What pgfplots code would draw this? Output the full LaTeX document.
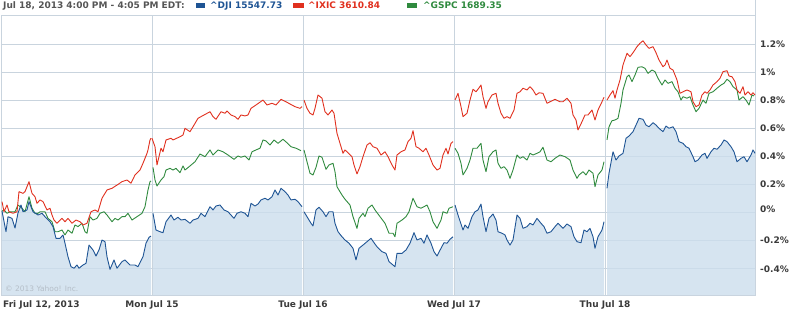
\documentclass[border=0pt]{standalone}
\usepackage{pgfplots}
\pgfplotsset{compat=1.18}
\usepackage{pgfplotstable}
\usepackage{fontspec}
\setmainfont{DejaVu Sans}
\definecolor{djiblue}{HTML}{1E5494}
\definecolor{djifill}{HTML}{CCDDEC}
\definecolor{ixicred}{HTML}{E0301E}
\definecolor{gspcgreen}{HTML}{2F8A3E}
\definecolor{gridc}{HTML}{C9D4DE}
\definecolor{labelc}{HTML}{3A3A3A}
\definecolor{titlec}{HTML}{555555}
\definecolor{wmark}{HTML}{B4BEC8}

\pgfplotstableread{
x y
2 0.011
6 -0.136
8 -0.029
12 -0.041
15 -0.110
18 -0.003
21 0.054
23 0.006
27 0.019
29 0.078
33 0.006
38 -0.017
42 -0.005
45 -0.029
50 -0.065
53 -0.100
56 -0.183
60 -0.183
63 -0.159
65 -0.218
68 -0.314
71 -0.385
74 -0.396
77 -0.373
79 -0.396
83 -0.373
86 -0.361
89 -0.231
93 -0.266
96 -0.309
99 -0.266
102 -0.195
105 -0.207
107 -0.314
110 -0.404
114 -0.337
117 -0.396
122 -0.349
125 -0.337
130 -0.373
135 -0.373
138 -0.385
143 -0.314
146 -0.218
149 -0.176
151 -0.167
}\djiA

\pgfplotstableread{
x y
153 -0.005
156 -0.124
160 -0.136
163 -0.143
166 -0.065
171 -0.017
174 -0.053
178 -0.033
181 -0.053
185 -0.048
190 -0.076
193 -0.053
198 -0.041
201 -0.005
205 -0.029
210 0.042
213 0.019
216 0.047
220 0.054
224 0.019
228 0.006
234 -0.041
237 -0.005
241 0.006
245 -0.005
248 -0.029
251 0.066
255 0.047
258 0.061
261 0.090
265 0.102
268 0.090
272 0.113
275 0.161
278 0.125
281 0.173
285 0.149
288 0.125
291 0.090
295 0.095
298 0.078
302 0.042
}\djiB

\pgfplotstableread{
x y
304 0.006
307 -0.029
311 -0.076
313 -0.095
316 0.019
319 0.038
323 0.006
326 -0.029
329 0.006
333 0.006
335 -0.076
338 -0.136
342 -0.172
345 -0.195
349 -0.218
353 -0.254
356 -0.337
359 -0.254
363 -0.231
367 -0.207
371 -0.183
374 -0.214
377 -0.243
382 -0.278
386 -0.290
389 -0.349
393 -0.373
395 -0.385
397 -0.290
402 -0.290
406 -0.266
410 -0.218
414 -0.143
417 -0.195
421 -0.183
424 -0.218
427 -0.159
431 -0.218
434 -0.278
437 -0.309
441 -0.254
444 -0.214
447 -0.218
450 -0.190
453 -0.172
}\djiC

\pgfplotstableread{
x y
455 0.054
458 -0.017
463 -0.124
465 -0.088
468 -0.112
472 -0.029
475 0.006
478 0.019
481 0.061
483 -0.029
486 -0.136
489 -0.041
493 -0.010
496 -0.053
498 -0.136
502 -0.147
505 -0.159
507 -0.195
510 -0.231
513 -0.195
517 -0.017
520 -0.041
523 -0.112
527 -0.100
530 -0.076
533 -0.088
537 -0.041
541 -0.076
544 -0.100
547 -0.147
551 -0.136
555 -0.100
558 -0.076
563 -0.112
567 -0.081
571 -0.100
574 -0.172
577 -0.207
581 -0.214
584 -0.124
587 -0.136
590 -0.112
593 -0.172
595 -0.254
598 -0.172
602 -0.124
604 -0.065
}\djiD

\pgfplotstableread{
x y
607 0.173
609 0.280
613 0.433
616 0.374
619 0.403
623 0.422
626 0.529
629 0.545
633 0.576
636 0.623
639 0.671
643 0.664
646 0.623
649 0.611
653 0.640
656 0.623
659 0.600
663 0.576
666 0.616
669 0.600
673 0.611
676 0.576
679 0.505
683 0.493
686 0.469
689 0.458
693 0.398
695 0.362
698 0.374
702 0.410
705 0.422
707 0.386
711 0.433
714 0.458
717 0.451
721 0.481
724 0.517
727 0.505
731 0.469
734 0.433
737 0.362
741 0.386
744 0.398
747 0.362
751 0.410
753 0.446
755 0.422
}\djiE

\pgfplotstableread{
x y
2 0.078
4 0.006
7 0.054
9 0.006
13 -0.005
17 0.006
19 0.149
23 0.137
25 0.149
29 0.220
32 0.137
35 0.113
37 0.066
40 0.090
43 0.078
47 0.019
50 0.031
52 -0.017
54 -0.053
57 -0.076
62 -0.041
65 -0.065
68 -0.041
72 -0.076
76 -0.053
80 -0.065
83 -0.088
87 -0.076
91 0.006
95 0.019
98 0.006
102 0.102
107 0.161
112 0.173
117 0.196
122 0.220
127 0.232
131 0.209
135 0.268
140 0.303
143 0.351
147 0.422
148 0.446
150 0.517
151 0.529
nan nan
152 0.529
155 0.469
157 0.339
161 0.458
163 0.433
166 0.517
171 0.529
173 0.517
180 0.540
183 0.552
185 0.600
190 0.576
193 0.611
198 0.671
201 0.683
210 0.718
213 0.683
216 0.664
221 0.718
225 0.707
227 0.723
231 0.695
235 0.683
238 0.664
241 0.695
245 0.688
248 0.695
251 0.742
256 0.766
263 0.801
267 0.766
272 0.778
276 0.766
281 0.806
286 0.789
290 0.773
295 0.754
300 0.742
302 0.754
nan nan
304 0.801
307 0.742
310 0.707
313 0.695
315 0.742
318 0.837
322 0.814
325 0.718
328 0.695
332 0.730
334 0.707
337 0.564
340 0.493
343 0.422
345 0.446
348 0.426
352 0.398
354 0.339
357 0.275
360 0.327
363 0.398
367 0.481
370 0.497
373 0.469
377 0.458
381 0.410
385 0.433
388 0.398
392 0.339
395 0.303
397 0.410
401 0.433
405 0.446
408 0.505
411 0.529
413 0.583
416 0.469
419 0.458
423 0.433
426 0.458
429 0.410
433 0.339
437 0.303
440 0.315
443 0.410
446 0.458
448 0.417
451 0.493
453 0.505
nan nan
455 0.801
458 0.849
461 0.754
463 0.683
467 0.707
470 0.801
473 0.878
476 0.860
478 0.878
481 0.908
483 0.825
486 0.742
488 0.789
492 0.837
496 0.849
498 0.778
501 0.707
504 0.671
507 0.683
510 0.671
514 0.730
517 0.849
520 0.860
523 0.885
527 0.873
530 0.896
533 0.873
536 0.837
539 0.853
543 0.849
547 0.778
550 0.789
555 0.806
560 0.789
563 0.789
567 0.814
571 0.778
573 0.695
576 0.659
578 0.588
582 0.647
585 0.695
588 0.695
592 0.730
595 0.659
598 0.730
602 0.789
604 0.821
nan nan
607 0.801
610 0.837
613 0.868
615 0.814
617 0.873
620 0.944
623 1.051
627 1.134
630 1.110
633 1.138
637 1.181
640 1.205
643 1.223
646 1.193
649 1.169
653 1.181
656 1.138
659 1.086
663 1.038
665 1.051
667 1.086
670 1.027
673 1.015
677 0.944
680 0.849
683 0.860
687 0.873
691 0.860
693 0.789
696 0.754
699 0.766
702 0.837
705 0.860
707 0.849
710 0.873
713 0.908
717 0.932
720 0.956
723 1.003
727 1.010
729 0.972
732 0.967
735 0.932
737 0.873
740 0.849
743 0.896
745 0.837
748 0.860
751 0.837
753 0.853
755 0.837
}\ixic

\pgfplotstableread{
x y
2 0.011
4 0.019
7 -0.005
10 0.006
15 0.006
18 0.054
22 0.031
25 0.006
29 0.113
32 0.031
35 -0.005
38 -0.005
40 0.006
45 0.006
48 -0.041
52 -0.065
55 -0.136
58 -0.136
62 -0.124
65 -0.159
68 -0.124
72 -0.147
75 -0.088
78 -0.100
82 -0.076
85 -0.136
87 -0.147
90 -0.029
93 -0.053
97 -0.041
100 -0.005
104 0.006
107 -0.017
112 -0.065
115 -0.041
118 -0.053
122 -0.029
125 -0.029
128 -0.005
132 -0.053
137 -0.029
142 -0.005
145 0.042
148 0.161
150 0.220
151 0.225
nan nan
153 0.322
155 0.232
157 0.189
161 0.232
164 0.256
166 0.303
170 0.315
173 0.303
176 0.315
180 0.284
183 0.332
185 0.303
190 0.332
195 0.362
200 0.417
205 0.398
210 0.446
213 0.410
218 0.446
223 0.433
228 0.410
234 0.379
238 0.403
241 0.394
245 0.403
249 0.374
252 0.433
256 0.446
260 0.458
263 0.517
266 0.510
270 0.481
274 0.517
278 0.493
283 0.522
287 0.497
291 0.469
296 0.458
301 0.441
nan nan
304 0.446
307 0.362
310 0.280
313 0.268
316 0.322
319 0.403
322 0.394
326 0.308
329 0.339
333 0.351
335 0.291
337 0.184
342 0.125
345 0.095
350 0.054
353 -0.029
357 -0.112
359 -0.041
363 -0.005
365 -0.029
368 0.031
372 0.054
375 0.019
380 -0.029
385 -0.076
389 -0.147
393 -0.147
395 -0.172
397 -0.076
402 -0.053
406 -0.029
409 0.006
413 0.102
417 0.042
421 0.031
424 0.042
427 0.054
430 0.006
433 -0.065
437 -0.112
441 -0.053
443 0.006
447 -0.005
449 0.031
453 0.042
nan nan
455 0.458
458 0.422
461 0.351
463 0.268
467 0.315
470 0.374
473 0.458
477 0.458
481 0.493
483 0.374
486 0.291
489 0.398
493 0.433
496 0.446
498 0.351
501 0.315
504 0.327
507 0.303
510 0.244
513 0.303
517 0.410
520 0.386
523 0.398
527 0.374
530 0.422
533 0.410
537 0.422
540 0.433
543 0.465
547 0.374
551 0.362
555 0.386
560 0.410
565 0.398
570 0.374
573 0.303
577 0.244
579 0.268
583 0.291
586 0.268
589 0.303
593 0.280
595 0.184
598 0.268
602 0.303
604 0.362
nan nan
607 0.517
609 0.611
612 0.654
615 0.659
618 0.671
621 0.778
623 0.873
627 0.967
629 0.979
632 0.932
635 0.979
638 1.034
642 1.038
645 1.027
648 0.991
652 1.015
655 1.003
658 0.956
662 0.908
665 0.944
668 0.920
672 0.932
675 0.885
678 0.860
681 0.801
683 0.825
687 0.814
690 0.825
693 0.766
696 0.718
699 0.742
703 0.801
706 0.778
709 0.849
713 0.860
717 0.885
721 0.908
724 0.920
727 0.949
730 0.932
733 0.896
737 0.873
739 0.801
743 0.825
746 0.801
749 0.766
752 0.837
754 0.830
}\gspc

\begin{document}
\begin{tikzpicture}
\useasboundingbox (-1pt,-16pt) rectangle (795pt,295pt);
\begin{axis}[
  at={(0pt,0pt)}, anchor=south west,
  scale only axis, width=754pt, height=280pt,
  xmin=1, xmax=755, ymin=-0.5865, ymax=1.4064,
  clip=false,
  unbounded coords=jump,
  axis line style={draw=gridc, line width=0.8pt},
  grid=major,
  major grid style={draw=gridc, line width=0.8pt},
  major tick length=0pt,
  tick style={draw=none},
  xtick={152,303,454,605},
  xticklabels={Mon Jul 15, Tue Jul 16, Wed Jul 17, Thu Jul 18},
  extra x ticks={1},
  extra x tick labels={Fri Jul 12{,} 2013},
  extra x tick style={grid=none, xticklabel style={anchor=base west, xshift=2pt}},
  xticklabel style={font=\bfseries\fontsize{9}{10}\selectfont, text=labelc, anchor=base, inner sep=0pt, yshift=-12pt},
  ytick={-0.4,-0.2,0,0.2,0.4,0.6,0.8,1.0,1.2},
  yticklabels={-0.4\%,-0.2\%,\raisebox{6pt}{0\%},0.2\%,0.4\%,0.6\%,0.8\%,1\%,1.2\%},
  yticklabel pos=right,
  yticklabel style={font=\bfseries\fontsize{9}{10}\selectfont, text=labelc, anchor=west, inner sep=0pt, xshift=5pt},
]
\addplot[draw=none, fill=djifill, fill opacity=0.8] table {\djiA} -- (axis cs:151,-0.5865) -- (axis cs:2,-0.5865) -- cycle;
\addplot[draw=none, fill=djifill, fill opacity=0.8] table {\djiB} -- (axis cs:302,-0.5865) -- (axis cs:153,-0.5865) -- cycle;
\addplot[draw=none, fill=djifill, fill opacity=0.8] table {\djiC} -- (axis cs:453,-0.5865) -- (axis cs:304,-0.5865) -- cycle;
\addplot[draw=none, fill=djifill, fill opacity=0.8] table {\djiD} -- (axis cs:604,-0.5865) -- (axis cs:455,-0.5865) -- cycle;
\addplot[draw=none, fill=djifill, fill opacity=0.8] table {\djiE} -- (axis cs:755,-0.5865) -- (axis cs:607,-0.5865) -- cycle;
\addplot[gspcgreen, line width=0.9pt, line join=round] table {\gspc};
\addplot[ixicred, line width=0.9pt, line join=round] table {\ixic};
\addplot[djiblue, line width=0.9pt, line join=round] table {\djiA};
\addplot[djiblue, line width=0.9pt, line join=round] table {\djiB};
\addplot[djiblue, line width=0.9pt, line join=round] table {\djiC};
\addplot[djiblue, line width=0.9pt, line join=round] table {\djiD};
\addplot[djiblue, line width=0.9pt, line join=round] table {\djiE};
\end{axis}
\draw[gridc, line width=0.8pt] (754pt,280pt) -- (754pt,295pt);
\node[anchor=base west, inner sep=0pt, font=\fontsize{7.5}{9}\selectfont, text=wmark] at (4pt,4pt) {\textcopyright\ 2013 Yahoo! Inc.};
\node[anchor=base west, inner sep=0pt, font=\bfseries\fontsize{9}{10}\selectfont, text=titlec] at (2pt,286.5pt) {Jul 18, 2013 4:00 PM - 4:05 PM EDT:};
\fill[djiblue] (195pt,287pt) rectangle (204pt,291.5pt);
\node[anchor=base west, inner sep=0pt, font=\bfseries\fontsize{9}{10}\selectfont, text=djiblue] at (209pt,286.5pt) {\textasciicircum DJI 15547.73};
\fill[ixicred] (292pt,287pt) rectangle (303pt,291.5pt);
\node[anchor=base west, inner sep=0pt, font=\bfseries\fontsize{9}{10}\selectfont, text=ixicred] at (307pt,286.5pt) {\textasciicircum IXIC 3610.84};
\fill[gspcgreen] (406pt,287pt) rectangle (416pt,291.5pt);
\node[anchor=base west, inner sep=0pt, font=\bfseries\fontsize{9}{10}\selectfont, text=gspcgreen] at (422pt,286.5pt) {\textasciicircum GSPC 1689.35};
\end{tikzpicture}
\end{document}
